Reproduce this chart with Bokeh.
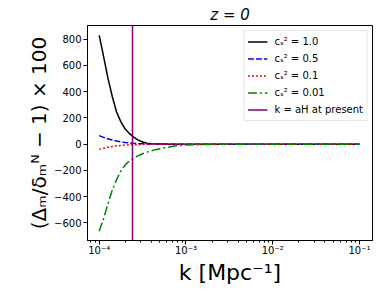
import numpy as np
from bokeh.plotting import figure
from bokeh.models import (Range1d, FixedTicker, SingleIntervalTicker, CustomJSTickFormatter,
                          Legend, LegendItem)
from bokeh.embed import file_html
from bokeh.resources import INLINE

# ---- data ----
log_k = [-4.0, -3.95, -3.9, -3.85, -3.8, -3.75, -3.7, -3.65, -3.6, -3.55, -3.5,
         -3.45, -3.4, -3.35, -3.3, -3.25, -3.2, -3.15, -3.1, -3.05, -3.0,
         -2.8, -2.5, -2.0, -1.5, -1.0]
cs2_1p0 = [830, 670, 505, 365, 245, 170, 115, 80, 52, 31, 16,
           7, 3, 1.2, 0.5, 0.2, 0.1, 0, 0, 0, 0, 0, 0, 0, 0, 0]
cs2_0p5 = [65, 52, 41, 32, 24, 17, 12, 9, 6, 4, 3,
           2, 1.2, 0.8, 0.5, 0.3, 0.2, 0.1, 0, 0, 0, 0, 0, 0, 0, 0]
cs2_0p1 = [-40, -31, -24, -18, -13, -10, -7, -5, -4, -3, -2,
           -1.5, -1, -0.7, -0.5, -0.3, -0.2, -0.1, -0.1, 0, 0, 0, 0, 0, 0, 0]
cs2_0p01 = [-665, -570, -458, -352, -270, -205, -158, -127, -106, -88, -73,
            -61, -51, -42, -35, -28, -23, -16, -12, -9, -7, -3, -0.8, -0.1, 0, 0]
k_aH = [2.4e-4]
x_major = [1e-4, 1e-3, 1e-2, 1e-1]
y_ticks_interval = 200

k = [10 ** v for v in log_k]

p = figure(width=379, height=290, x_axis_type="log",
           x_range=Range1d(10 ** -4.135, 10 ** -0.85),
           y_range=Range1d(-735, 905),
           output_backend="svg", toolbar_location=None,
           min_border_left=87, min_border_right=7, min_border_top=25, min_border_bottom=50)

p.title.text = "z = 0"
p.title.align = "center"
p.title.text_font = "DejaVu Sans"
p.title.text_font_size = "15px"
p.title.text_font_style = "italic"
p.title.text_color = "black"
p.title.standoff = 3
p.title.offset = 0

p.xgrid.visible = False
p.ygrid.visible = False
p.outline_line_color = "black"
p.outline_line_width = 1
p.background_fill_color = "white"
p.border_fill_color = "white"

minor = []
for e in range(-5, 0):
    for m in range(2, 10):
        minor.append(m * 10 ** e)
p.xaxis.ticker = FixedTicker(ticks=x_major, minor_ticks=minor)
p.xaxis.formatter = CustomJSTickFormatter(code="""
const e = Math.round(Math.log10(tick));
const sup = {'-':'\u207b','0':'\u2070','1':'\u00b9','2':'\u00b2','3':'\u00b3','4':'\u2074','5':'\u2075','6':'\u2076','7':'\u2077','8':'\u2078','9':'\u2079'};
return '10' + String(e).split('').map(c => sup[c]).join('');
""")
p.yaxis.ticker = SingleIntervalTicker(interval=y_ticks_interval, num_minor_ticks=0)
p.yaxis.formatter = CustomJSTickFormatter(code="""
return tick < 0 ? '\u2212' + Math.abs(tick) : String(tick);
""")

for ax in (p.xaxis[0], p.yaxis[0]):
    ax.axis_line_color = "black"
    ax.major_tick_out = 4
    ax.major_tick_in = 0
    ax.minor_tick_out = 2
    ax.minor_tick_in = 0
    ax.major_label_text_font = "DejaVu Sans"
    ax.major_label_text_font_size = "10px"
    ax.major_label_text_color = "black"
    ax.axis_label_text_font = "DejaVu Sans"
    ax.axis_label_text_font_style = "normal"
    ax.axis_label_text_color = "black"

p.xaxis.major_label_standoff = 0
p.yaxis.major_label_standoff = 2
p.xaxis.axis_label = "k [Mpc\u207b\u00b9]"
p.xaxis.axis_label_text_font_size = "22px"
p.xaxis.axis_label_standoff = 1
p.yaxis.axis_label = "(\u0394\u2098/\u03b4\u2098\u1d3a \u2212 1) \u00d7 100"
p.yaxis.axis_label_text_font_size = "20px"
p.yaxis.axis_label_standoff = 0

r1 = p.line(k, cs2_1p0, line_color="black", line_width=1.5)
r2 = p.line(k, cs2_0p5, line_color="blue", line_width=1.5, line_dash="6 2")
r3 = p.line(k, cs2_0p1, line_color="red", line_width=1.5, line_dash="2 2")
r4 = p.line(k, cs2_0p01, line_color="green", line_width=1.5, line_dash="9 3 2 3")
r5 = p.vspan(x=k_aH, line_color="purple", line_width=1.5)

legend = Legend(items=[
    LegendItem(label="c\u209b\u00b2 = 1.0", renderers=[r1]),
    LegendItem(label="c\u209b\u00b2 = 0.5", renderers=[r2]),
    LegendItem(label="c\u209b\u00b2 = 0.1", renderers=[r3]),
    LegendItem(label="c\u209b\u00b2 = 0.01", renderers=[r4]),
    LegendItem(label="k = aH at present", renderers=[r5]),
], location="top_right")
legend.label_text_font = "DejaVu Sans"
legend.label_text_font_size = "10px"
legend.label_text_color = "black"
legend.glyph_width = 20
legend.glyph_height = 15
legend.label_height = 15
legend.label_standoff = 7
legend.spacing = 2
legend.padding = 3
legend.margin = 5
legend.border_line_color = "#cccccc"
legend.background_fill_alpha = 0.8
p.add_layout(legend)

open("out.html", "w").write(file_html(p, INLINE))
